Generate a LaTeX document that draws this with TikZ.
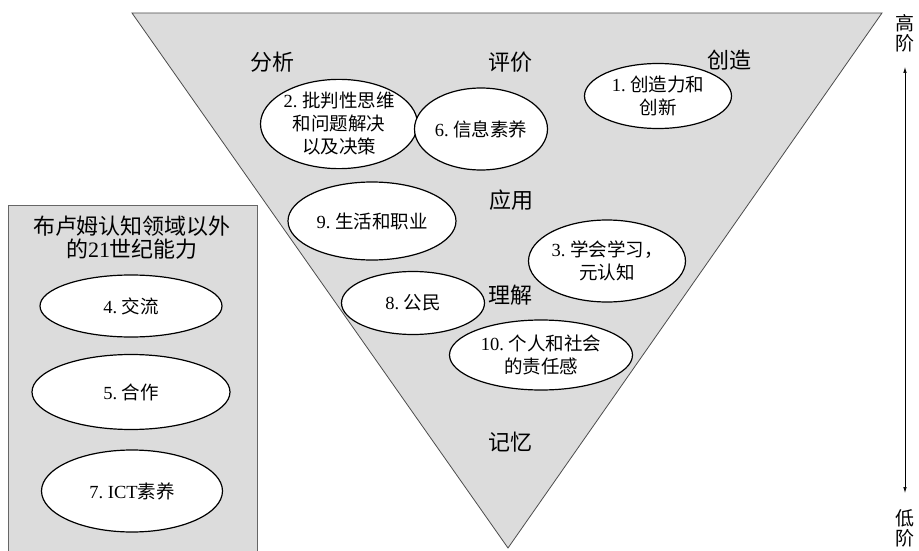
\documentclass[tikz,border=0pt]{standalone}
\usepackage{fontspec}
\setmainfont{Liberation Serif}
\newfontfamily\cjk{Noto Sans CJK SC}
\usetikzlibrary{shapes.geometric,arrows.meta}
\definecolor{panel}{RGB}{220,220,220}
\begin{document}
\begin{tikzpicture}[x=1pt,y=-1pt,
  oval/.style={ellipse,draw=black,line width=1.2pt,fill=white,inner sep=0pt,
    align=center,font=\fontsize{18.5}{23}\selectfont},
  level/.style={font=\fontsize{22}{24}\selectfont\cjk,inner sep=0pt},
  side/.style={font=\fontsize{19}{20}\selectfont\cjk,inner sep=0pt,align=center},
  title/.style={font=\fontsize{22}{23}\selectfont,inner sep=0pt,align=center}]
\useasboundingbox (0,0) rectangle (919,551);
\clip (0,0) rectangle (919,551);
% inverted triangle
\coordinate (tl) at (132,13);
\coordinate (tr) at (882,13);
\coordinate (ap) at (508,548);
\draw[fill=panel,draw=black!70,line width=0.8pt] (tl) -- (tr) -- (ap) -- cycle;
% left panel
\draw[fill=panel,draw=black!60,line width=0.8pt] (8,560) -- (8,205) -- (257,205) -- (257,560);
% level labels
\node[level] (fx) at (272,62) {分析};
\node[level] (pj) at (510,62) {评价};
\node[level] (cz) at (729,60) {创造};
\node[level] (yy) at (511,200) {应用};
\node[level] (lj) at (510,295) {理解};
\node[level] (jy) at (510,442) {记忆};
% ellipses in triangle
\node[oval,minimum width=152pt,minimum height=84pt] (e2) at (339,124)
  {2.~{\cjk 批判性思维}\\{\cjk 和问题解决}\\{\cjk 以及决策}};
\node[oval,minimum width=133pt,minimum height=82pt] (e6) at (481,129)
  {6.~{\cjk 信息素养}};
\node[oval,minimum width=147pt,minimum height=65pt] (e1) at (658,96)
  {1.~{\cjk 创造力和}\\{\cjk 创新}};
\node[oval,minimum width=168pt,minimum height=78pt] (e9) at (372,221)
  {9.~{\cjk 生活和职业}};
\node[oval,minimum width=148pt,minimum height=82pt] (e3) at (607,261)
  {3.~{\cjk 学会学习，}\\{\cjk 元认知}};
\node[oval,minimum width=143pt,minimum height=63pt] (e8) at (413,303)
  {8.~{\cjk 公民}};
\node[oval,minimum width=183pt,minimum height=70pt] (e10) at (541,355)
  {10.~{\cjk 个人和社会}\\{\cjk 的责任感}};
% left panel contents
\node[title] (tt) at (132,238) {{\cjk 布卢姆认知领域以外}\\{\cjk 的}21{\cjk 世纪能力}};
\node[oval,minimum width=182pt,minimum height=62pt] (e4) at (131,306)
  {4.~{\cjk 交流}};
\node[oval,minimum width=198pt,minimum height=75pt] (e5) at (131,392)
  {5.~{\cjk 合作}};
\node[oval,minimum width=181pt,minimum height=82pt] (e7) at (132,491)
  {7.~ICT{\cjk 素养}};
% right arrow
\node[side] (hi) at (905,33) {高\\阶};
\node[side] (lo) at (905,528) {低\\阶};
\coordinate (atop) at (905,67);
\coordinate (abot) at (905,493);
\draw[{Latex[length=6pt,width=3.5pt]}-{Latex[length=6pt,width=3.5pt]},line width=0.7pt] (atop) -- (abot);
\end{tikzpicture}
\end{document}
